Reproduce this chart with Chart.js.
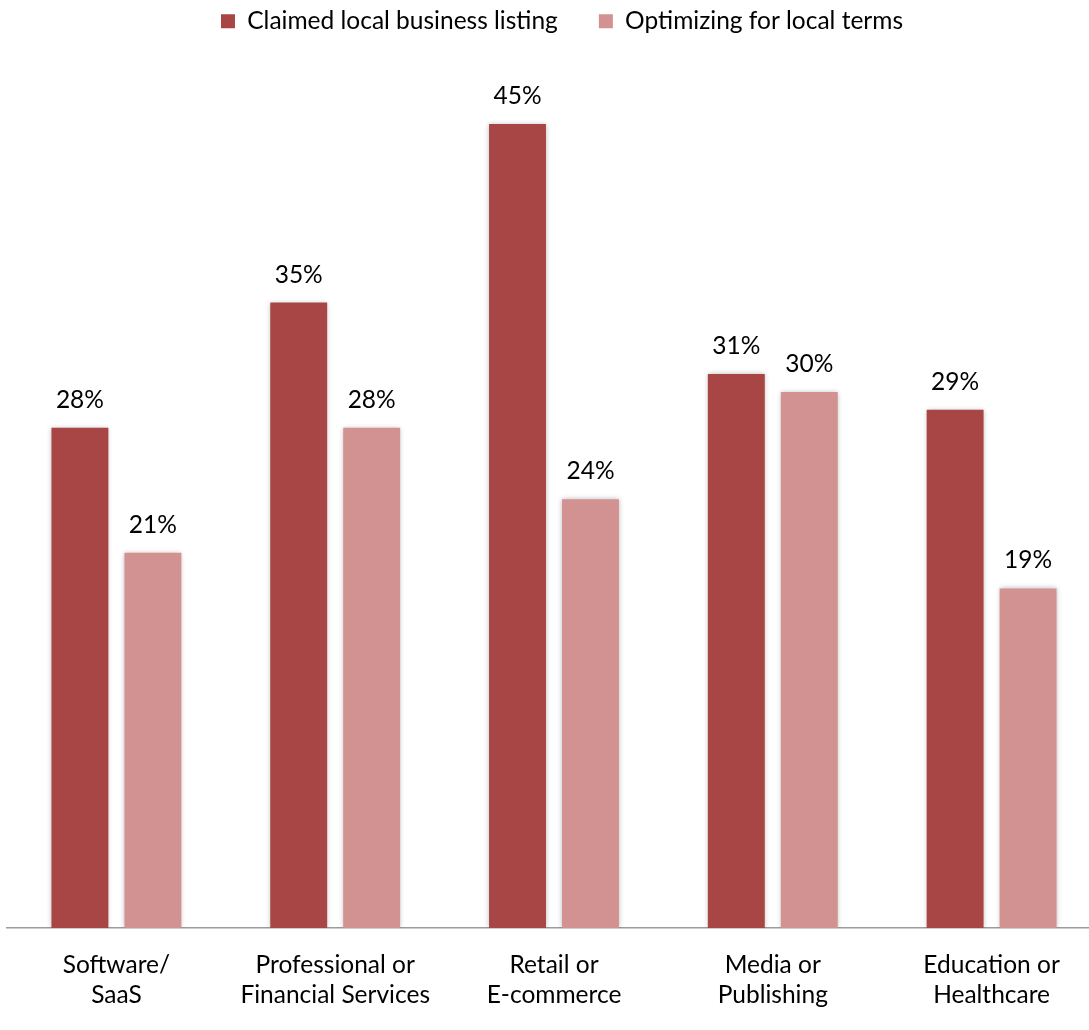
<!DOCTYPE html>
<html>
<head>
<meta charset="utf-8">
<title>Local SEO by industry</title>
<script src="https://cdn.jsdelivr.net/npm/chart.js@4.4.1/dist/chart.umd.min.js"></script>
<style>
    body { margin: 0; overflow: hidden; background: #fff; }
    #wrap { position: absolute; left: 0; top: 0; width: 1117px; height: 1032px; }
</style>
</head>
<body>
<div id="wrap"><canvas id="chart"></canvas></div>
<script>
// Data
const categories = [
    ['Software/', 'SaaS'],
    ['Professional or', 'Financial Services'],
    ['Retail or', 'E-commerce'],
    ['Media or', 'Publishing'],
    ['Education or', 'Healthcare']
];
const claimedListing = [28, 35, 45, 31, 29];
const optimizingLocal = [21, 28, 24, 30, 19];
const seriesNames = ['Claimed local business listing', 'Optimizing for local terms'];

const FONT = 'Lato, "Open Sans", sans-serif';
const FONT_SIZE = 24.5;

// soft grey glow round the bars
const barShadow = {
    id: 'barShadow',
    beforeDatasetsDraw(chart) {
        const ctx = chart.ctx;
        ctx.save();
        ctx.shadowColor = 'rgba(0, 0, 0, 0.28)';
        ctx.shadowBlur = 5;
        ctx.shadowOffsetX = 0;
        ctx.shadowOffsetY = 0;
    },
    afterDatasetsDraw(chart) {
        chart.ctx.restore();
    }
};

// percentage labels above each bar
const valueLabels = {
    id: 'valueLabels',
    afterDraw(chart) {
        const ctx = chart.ctx;
        ctx.save();
        ctx.font = FONT_SIZE + 'px ' + FONT;
        ctx.fillStyle = '#000';
        ctx.textAlign = 'center';
        ctx.textBaseline = 'middle';
        chart.data.datasets.forEach((ds, i) => {
            chart.getDatasetMeta(i).data.forEach((bar, j) => {
                ctx.fillText(ds.data[j] + '%', bar.x, bar.y - 28);
            });
        });
        ctx.restore();
    }
};

document.addEventListener('DOMContentLoaded', function() {
    const ctx = document.getElementById('chart').getContext('2d');
    new Chart(ctx, {
        type: 'bar',
        data: {
            labels: categories,
            datasets: [
                {
                    label: seriesNames[0],
                    data: claimedListing,
                    backgroundColor: '#A84645',
                    categoryPercentage: 0.667,
                    barPercentage: 0.78
                },
                {
                    label: seriesNames[1],
                    data: optimizingLocal,
                    backgroundColor: '#D29291',
                    categoryPercentage: 0.667,
                    barPercentage: 0.78
                }
            ]
        },
        options: {
            responsive: true,
            maintainAspectRatio: false,
            animation: false,
            layout: {
                padding: { top: -32, left: 7, right: 0, bottom: 0 }
            },
            plugins: {
                legend: {
                    position: 'top',
                    labels: {
                        boxWidth: 14,
                        boxHeight: 14,
                        padding: 41,
                        color: '#000',
                        font: { family: FONT, size: FONT_SIZE }
                    }
                },
                tooltip: { enabled: false }
            },
            scales: {
                x: {
                    grid: { display: false, drawTicks: false },
                    border: { display: true, color: '#9c9c9c', width: 1.5 },
                    ticks: {
                        color: '#000',
                        padding: 22,
                        maxRotation: 0,
                        autoSkip: false,
                        font: { family: FONT, size: FONT_SIZE, lineHeight: '30px' }
                    }
                },
                y: {
                    position: 'right',
                    min: 0,
                    max: 49.5,
                    grid: { display: false, drawTicks: false },
                    border: { display: false },
                    ticks: { display: false },
                    afterFit(scale) { scale.width = 16; }
                }
            }
        },
        plugins: [barShadow, valueLabels]
    });
});
</script>
</body>
</html>
